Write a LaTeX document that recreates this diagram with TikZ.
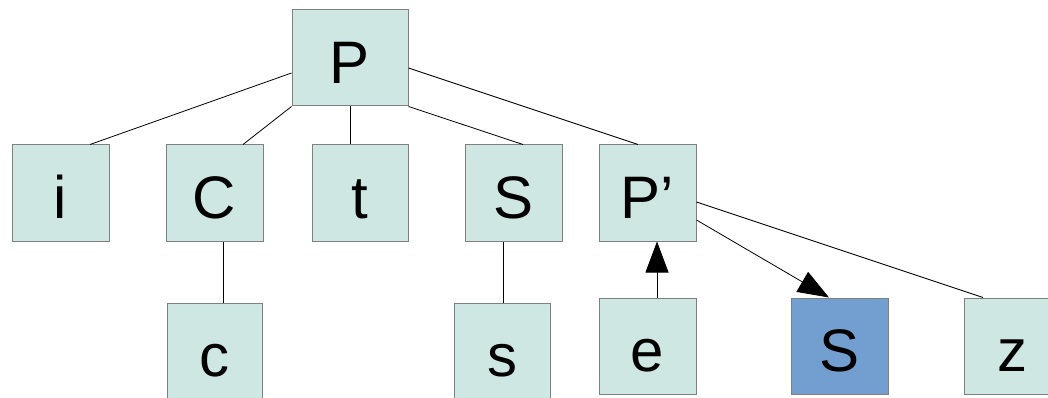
\documentclass[tikz,border=0pt]{standalone}
\usepackage{fontspec}
\setmainfont{Liberation Sans}
\usetikzlibrary{calc,arrows.meta}
\definecolor{boxfill}{RGB}{207,231,227}
\definecolor{boxline}{RGB}{128,128,128}
\definecolor{hlfill}{RGB}{114,159,207}
\begin{document}
\begin{tikzpicture}[x=1pt,y=-1pt,
  tbox/.style={draw=boxline,line width=1pt,fill=boxfill,minimum width=97pt,minimum height=96pt,
    inner sep=0pt,text height=51pt,text depth=0pt,font=\fontsize{60}{72}\selectfont},
  hbox/.style={tbox,fill=hlfill},
  edge/.style={draw=black,line width=0.8pt},
  arr/.style={edge,-{Triangle[length=31pt,width=23pt]}}]
\clip (0,0) rectangle (1048,398);
\fill[white] (0,0) rectangle (1048,398);
% top node
\node[tbox,minimum width=116pt] (P) at (350,58) {P};
% second row
\node[tbox] (i)  at (60.5,193)  {i};
\node[tbox] (C)  at (214.5,193) {C};
\node[tbox,minimum width=96pt] (t) at (360,193) {t};
\node[tbox] (S)  at (513.5,193) {S};
\node[tbox] (Pp) at (647.5,193) {P’};
% third row
\node[tbox,minimum width=95pt] (c) at (214.5,351) {c};
\node[tbox,minimum width=96pt] (s) at (502,351) {s};
\node[tbox] (e)  at (647.5,346) {e};
\node[hbox] (Sb) at (839.5,346) {S};
\node[tbox] (z)  at (1012.5,346) {z};
% connectors
\path[edge] ($(P.west)+(0,15)$) -- ($(i.north)+(29.5,0)$);
\path[edge] (P.south west) -- ($(C.north)+(28.5,0)$);
\path[edge] ($(P.south)$) -- ($(t.north)+(-10,0)$);
\path[edge] (P.south east) -- ($(S.north)+(9.5,0)$);
\path[edge] ($(P.east)+(0,10)$) -- ($(Pp.north)+(-9.5,0)$);
\path[edge] ($(C.south)+(8.5,0)$) -- ($(c.north)+(8.5,0)$);
\path[edge] ($(S.south)+(-10.5,0)$) -- ($(s.north)+(1,0)$);
\path[arr] ($(e.north)+(9.5,0)$) -- ($(Pp.south)+(9.5,0)$);
\path[arr] ($(Pp.east)+(0,27)$) -- ($(Sb.north)+(-10.5,0)$);
\path[edge] ($(Pp.east)+(0,9)$) -- ($(z.north)+(-29.5,0)$);
\end{tikzpicture}
\end{document}
